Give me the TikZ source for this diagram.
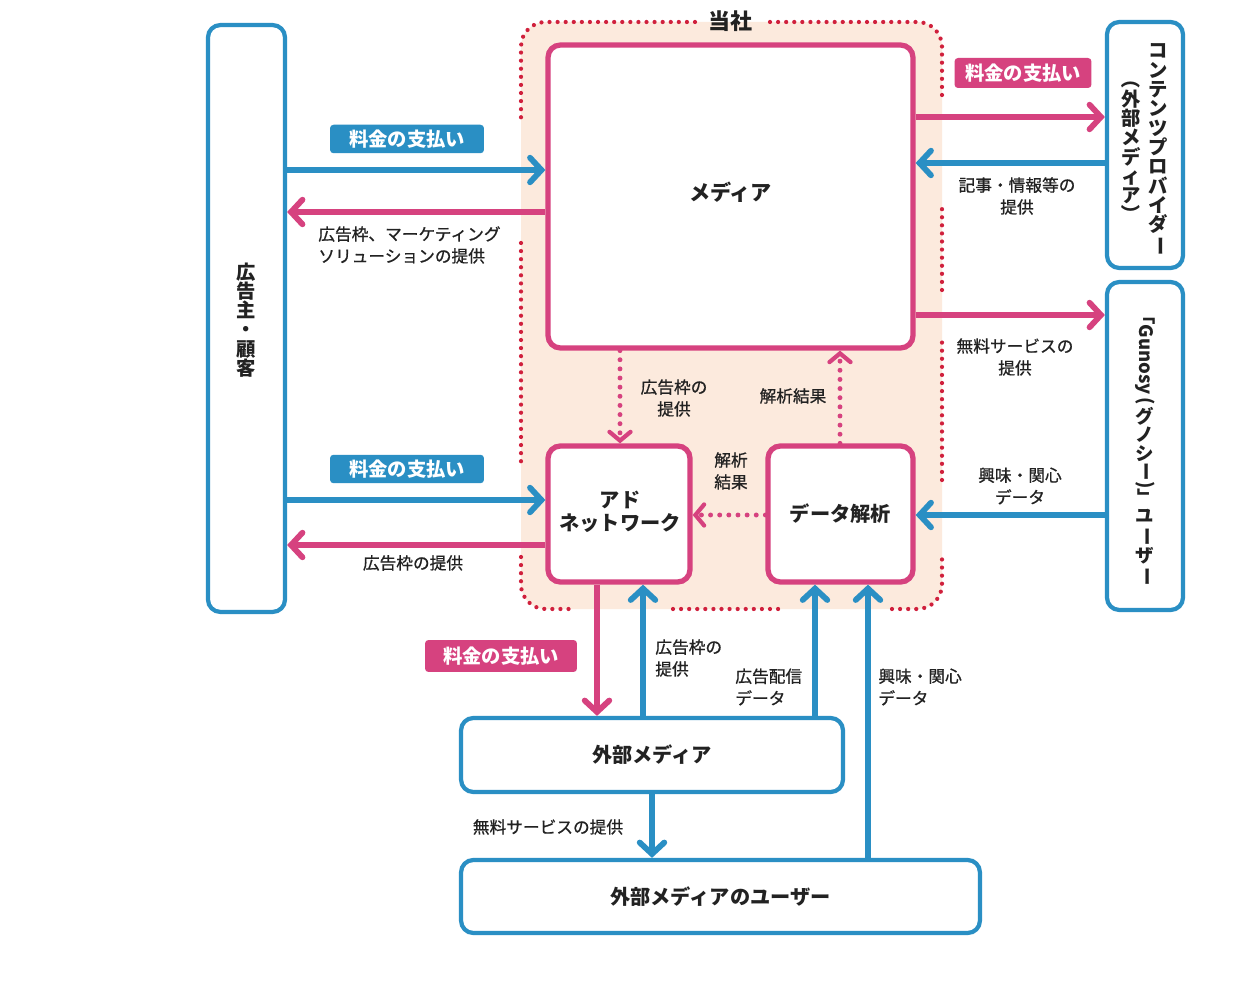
\documentclass[tikz,border=0pt]{standalone}
\usepackage{fontspec}
\usepackage{graphicx}
\usetikzlibrary{arrows.meta}
\setmainfont{Noto Sans CJK JP}
\newfontfamily\jp{Noto Sans CJK JP}
\newfontfamily\jpl{Noto Sans CJK JP}[FakeBold=0.8]
\definecolor{cblue}{HTML}{2A8FC4}
\definecolor{cpink}{HTML}{D6427F}
\definecolor{cred}{HTML}{D0203C}
\definecolor{cpeach}{HTML}{FCEADD}
\definecolor{ctext}{HTML}{222222}
\newcommand{\vrot}[1]{\rotatebox[origin=c]{-90}{#1}}
\tikzset{
  bbox/.style={draw=cblue, line width=2.4pt, rounded corners=7pt, fill=white, inner sep=0pt,
    font=\jp\bfseries\fontsize{11.5}{13}\selectfont, text=ctext, align=center},
  pbox/.style={bbox, draw=cpink, line width=3pt},
  vtext/.style={inner sep=0pt, align=center, text=ctext, font=\jp\bfseries\fontsize{11}{11}\selectfont},
  barrow/.style={draw=cblue, line width=3.3pt, -{Straight Barb[length=6.5pt,width=14pt,line cap=round]}},
  parrow/.style={barrow, draw=cpink},
  darrow/.style={draw=cpink, line width=2.8pt, line cap=round, dash pattern=on 0pt off 5.2pt,
    -{Straight Barb[length=5pt,width=12pt,line cap=round,line width=2.4pt]}},
  lbl/.style={font=\jpl\fontsize{9.5}{12.5}\selectfont, text=ctext, inner sep=0pt, align=center},
  tagb/.style={fill=cblue, text=white, font=\jp\bfseries\fontsize{11}{12}\selectfont,
    rounded corners=2pt, minimum width=3.08cm, minimum height=0.57cm, inner sep=0pt},
  tagp/.style={tagb, fill=cpink},
  dotr/.style={draw=cred, line width=2.4pt, line cap=round, dash pattern=on 0pt off 4.6pt, rounded corners=14pt},
}
\begin{document}
\begin{tikzpicture}[x=0.02cm, y=-0.02cm]
\fill[white] (0,0) rectangle (1238,1003);
\useasboundingbox (0,0) rectangle (1238,1003);

% company region
\fill[cpeach, rounded corners=14pt] (521,22) rectangle (942,609);
\draw[dotr] (695,22) -- (521,22) -- (521,125);
\draw[dotr] (521,243) -- (521,467);
\draw[dotr] (521,557) -- (521,609) -- (575,609);
\draw[dotr] (673,609) -- (783,609);
\draw[dotr] (892,609) -- (942,609) -- (942,555);
\draw[dotr] (942,480) -- (942,342);
\draw[dotr] (942,290) -- (942,205);
\draw[dotr] (942,95) -- (942,22) -- (765,22);
\node[font=\jp\bfseries\fontsize{12.5}{13}\selectfont, text=ctext] (tousha) at (730,21) {当社};

% boxes
\node[bbox, minimum width=1.54cm, minimum height=11.74cm] (cust) at (246.5,318.5) {};
\node[vtext] (custt) at (246.5,320) {広\\告\\主\\・\\顧\\客};
\node[pbox, minimum width=7.30cm, minimum height=6.06cm] (media) at (730.5,196.5) {};
\node[font=\jp\bfseries\fontsize{12}{13}\selectfont, text=ctext] (mediat) at (730.5,192) {メディア};
\node[pbox, minimum width=2.84cm, minimum height=2.72cm] (adnet) at (619,514) {};
\node[font=\jp\bfseries\fontsize{11.5}{13}\selectfont, text=ctext, align=center, inner sep=0pt] (adnett) at (620,512) {アド\\ネットワーク};
\node[pbox, minimum width=2.90cm, minimum height=2.72cm] (data) at (840.5,514) {データ解析};
\node[bbox, minimum width=1.52cm, minimum height=4.92cm] (cp) at (1145,145) {};
\node[vtext] (cpr) at (1158,150) {コ\\ン\\テ\\ン\\ツ\\プ\\ロ\\バ\\イ\\ダ\\\vrot{ー}};
\node[vtext] (cpl) at (1131,147) {\vrot{（}\\外\\部\\メ\\デ\\ィ\\ア\\\vrot{）}};
\node[bbox, minimum width=1.52cm, minimum height=6.56cm] (gun) at (1145,446) {};
\node[vtext, font=\jp\bfseries\fontsize{10.5}{10.5}\selectfont] (gunt) at (1145,446) {\vrot{「Gunosy\,(}\\グ\\ノ\\シ\\\vrot{ー)」}\\ユ\\\vrot{ー}\\ザ\\\vrot{ー}};
\node[bbox, minimum width=7.64cm, minimum height=1.48cm] (ext) at (652,755) {外部メディア};
\node[bbox, minimum width=10.38cm, minimum height=1.46cm] (extu) at (720.5,896.5) {外部メディアのユーザー};

% levels
\coordinate (yA) at (0,170);
\coordinate (yB) at (0,212);
\coordinate (yC) at (0,500);
\coordinate (yD) at (0,545);
\coordinate (yE) at (0,117);
\coordinate (yF) at (0,163);
\coordinate (yG) at (0,315);
\coordinate (yH) at (0,515);
\coordinate (x1) at (620,0);
\coordinate (x2) at (840,0);
\coordinate (x3) at (597,0);
\coordinate (x4) at (643,0);
\coordinate (x5) at (815,0);
\coordinate (x6) at (868,0);
\coordinate (x7) at (652,0);

% arrows
\draw[barrow] (cust.east |- yA) -- (media.west |- yA);
\draw[parrow] (media.west |- yB) -- (cust.east |- yB);
\draw[barrow] (cust.east |- yC) -- (adnet.west |- yC);
\draw[parrow] (adnet.west |- yD) -- (cust.east |- yD);
\draw[parrow] (media.east |- yE) -- (cp.west |- yE);
\draw[barrow] (cp.west |- yF) -- (media.east |- yF);
\draw[parrow] (media.east |- yG) -- (gun.west |- yG);
\draw[barrow] (gun.west |- yH) -- (data.east |- yH);
\draw[darrow] (media.south -| x1) -- (adnet.north -| x1);
\draw[darrow] (data.north -| x2) -- (media.south -| x2);
\draw[darrow] (data.west |- yH) -- (adnet.east |- yH);
\draw[parrow] (adnet.south -| x3) -- (ext.north -| x3);
\draw[barrow] (ext.north -| x4) -- (adnet.south -| x4);
\draw[barrow] (ext.north -| x5) -- (data.south -| x5);
\draw[barrow] (extu.north -| x6) -- (data.south -| x6);
\draw[barrow] (ext.south -| x7) -- (extu.north -| x7);

% labels
\node[tagb] (t1) at (407,139) {料金の支払い};
\node[lbl, anchor=west, align=left] (l2) at (318,245) {広告枠、マーケティング\\ソリューションの提供};
\node[tagb] (t3) at (407,469) {料金の支払い};
\node[lbl] (l4) at (413,563) {広告枠の提供};
\node[tagp, minimum width=2.74cm, minimum height=0.6cm] (t5) at (1023,73) {料金の支払い};
\node[lbl] (l6) at (1017,196) {記事・情報等の\\提供};
\node[lbl] (l7) at (1015,357) {無料サービスの\\提供};
\node[lbl] (l8) at (1020,486) {興味・関心\\データ};
\node[lbl] (l9) at (674,398) {広告枠の\\提供};
\node[lbl] (l10) at (793,396) {解析結果};
\node[lbl] (l11) at (731,471) {解析\\結果};
\node[tagp, minimum width=3.04cm, minimum height=0.64cm] (t12) at (501,656) {料金の支払い};
\node[lbl, anchor=west, align=left] (l13) at (655,658) {広告枠の\\提供};
\node[lbl, anchor=west, align=left] (l14) at (735,687) {広告配信\\データ};
\node[lbl, anchor=west, align=left] (l15) at (878,687) {興味・関心\\データ};
\node[lbl] (l16) at (548,827) {無料サービスの提供};
\end{tikzpicture}
\end{document}
